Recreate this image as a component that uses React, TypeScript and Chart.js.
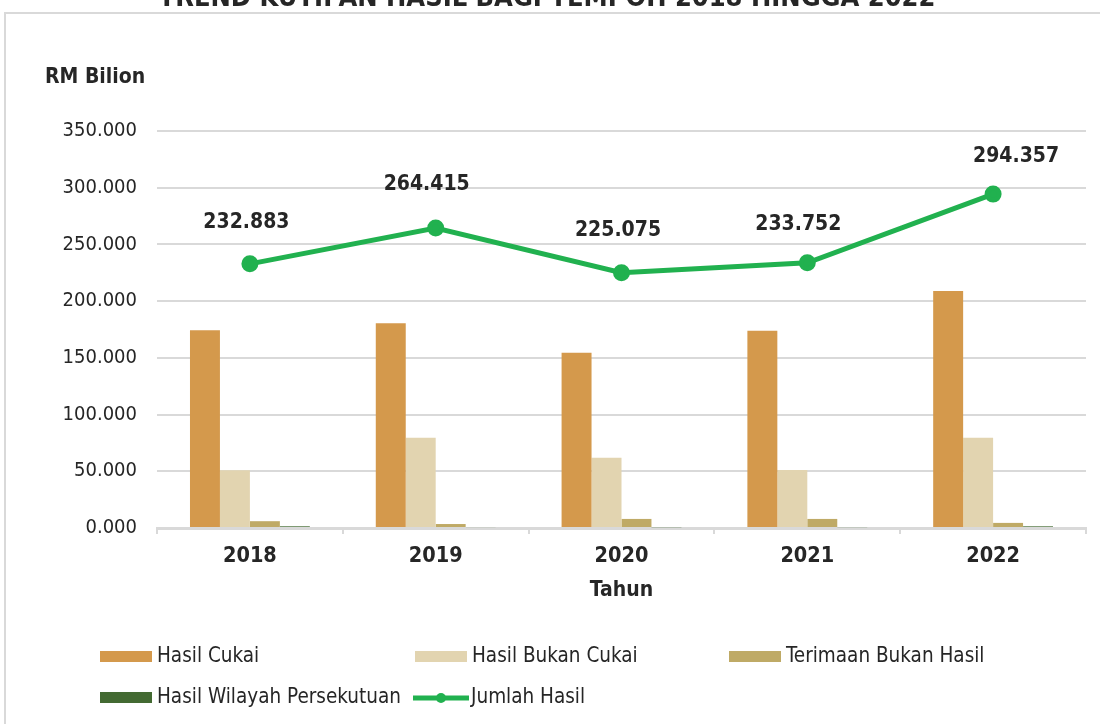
import React, { useEffect, useRef } from "react";
import { Chart, registerables } from "chart.js";
Chart.register(...registerables);

const chartTitle = "TREND KUTIPAN HASIL BAGI TEMPOH 2018 HINGGA 2022";
const yAxisTitle = "RM Bilion";
const xAxisTitle = "Tahun";
const years = ["2018", "2019", "2020", "2021", "2022"];
const hasilCukai = [174.4, 180.6, 154.4, 173.8, 208.9];
const hasilBukanCukai = [51.0, 79.5, 62.0, 51.2, 79.5];
const terimaanBukanHasil = [6.0, 3.5, 8.0, 8.0, 4.5];
const hasilWilayah = [1.483, 0.815, 0.675, 0.752, 1.457];
const jumlahHasil = [232.883, 264.415, 225.075, 233.752, 294.357];
const seriesLabels = [
  "Hasil Cukai",
  "Hasil Bukan Cukai",
  "Terimaan Bukan Hasil",
  "Hasil Wilayah Persekutuan",
  "Jumlah Hasil",
];
const seriesColors = ["#D4994C", "#E2D4B0", "#BFAA66", "#436A32", "#21B14F"];
// placement of the total-value labels relative to each point (dx, dy)
const labelShift = [
  [-3.5, -41],
  [-9, -44],
  [-3.5, -42],
  [-9, -38],
  [23, -38],
];

const FONT = "'DejaVu Sans Condensed', 'Liberation Sans', sans-serif";
const TEXT = "#262626";

const decorPlugin = {
  id: "decor",
  beforeDraw(chart: any) {
    const ctx = chart.ctx;
    ctx.save();
    ctx.fillStyle = "#ffffff";
    ctx.fillRect(0, 0, chart.width, chart.height);
    ctx.strokeStyle = "#d9d9d9";
    ctx.lineWidth = 2;
    ctx.beginPath();
    ctx.moveTo(5, 730);
    ctx.lineTo(5, 13);
    ctx.lineTo(1110, 13);
    ctx.stroke();
    ctx.fillStyle = TEXT;
    ctx.font = "bold 27px " + FONT;
    ctx.textAlign = "center";
    ctx.textBaseline = "alphabetic";
    ctx.fillText(chartTitle, 547, 6);
    ctx.restore();
  },
  afterDraw(chart: any) {
    const ctx = chart.ctx;
    ctx.save();
    ctx.fillStyle = TEXT;
    ctx.textBaseline = "middle";
    ctx.font = "bold 21px " + FONT;
    ctx.textAlign = "left";
    ctx.fillText(yAxisTitle, 45, 78);
    ctx.textAlign = "center";
    const ca = chart.chartArea;
    ctx.fillText(xAxisTitle, (ca.left + ca.right) / 2, 591);
    const meta = chart.getDatasetMeta(4);
    meta.data.forEach((pt: any, i: number) => {
      ctx.fillText(jumlahHasil[i].toFixed(3), pt.x + labelShift[i][0], pt.y + labelShift[i][1]);
    });
    const items = [
      { i: 0, x: 100, y: 657 },
      { i: 1, x: 415, y: 657 },
      { i: 2, x: 729, y: 657 },
      { i: 3, x: 100, y: 698 },
      { i: 4, x: 413, y: 698 },
    ];
    ctx.font = "20.5px " + FONT;
    ctx.textAlign = "left";
    items.forEach((it) => {
      const c = seriesColors[it.i];
      if (it.i === 4) {
        ctx.strokeStyle = c;
        ctx.lineWidth = 5;
        ctx.beginPath();
        ctx.moveTo(it.x, it.y);
        ctx.lineTo(it.x + 56, it.y);
        ctx.stroke();
        ctx.fillStyle = c;
        ctx.beginPath();
        ctx.arc(it.x + 28, it.y, 5, 0, Math.PI * 2);
        ctx.fill();
        ctx.fillStyle = TEXT;
        ctx.fillText(seriesLabels[it.i], it.x + 58, it.y);
      } else {
        ctx.fillStyle = c;
        ctx.fillRect(it.x, it.y - 6, 52, 11);
        ctx.fillStyle = TEXT;
        ctx.fillText(seriesLabels[it.i], it.x + 57, it.y);
      }
    });
    ctx.restore();
  },
};

export default function App() {
  const ref = useRef<HTMLCanvasElement | null>(null);
  useEffect(() => {
    if (!ref.current) return;
    const barDs = (idx: number, data: number[]) => ({
      type: "bar" as const,
      label: seriesLabels[idx],
      data,
      backgroundColor: seriesColors[idx],
      borderWidth: 0,
      categoryPercentage: 0.645,
      barPercentage: 1,
      order: 1,
    });
    const chart = new Chart(ref.current, {
      type: "bar",
      data: {
        labels: years,
        datasets: [
          barDs(0, hasilCukai),
          barDs(1, hasilBukanCukai),
          barDs(2, terimaanBukanHasil),
          barDs(3, hasilWilayah),
          {
            type: "line" as const,
            label: seriesLabels[4],
            data: jumlahHasil,
            borderColor: seriesColors[4],
            backgroundColor: seriesColors[4],
            borderWidth: 5,
            pointRadius: 6,
            pointBackgroundColor: seriesColors[4],
            pointBorderColor: seriesColors[4],
            tension: 0,
            order: 0,
          } as any,
        ],
      },
      options: {
        responsive: false,
        animation: false,
        devicePixelRatio: 1,
        layout: { padding: { left: 0, top: 131, right: 14, bottom: 0 } },
        plugins: {
          legend: { display: false },
          tooltip: { enabled: false },
          title: { display: false },
        },
        scales: {
          x: {
            offset: true,
            grid: {
              display: true,
              drawOnChartArea: false,
              drawTicks: true,
              tickLength: 6,
              color: "#d9d9d9",
              lineWidth: 2,
            },
            border: { display: true, color: "#d9d9d9", width: 3 },
            ticks: {
              color: TEXT,
              font: { family: FONT, size: 21.5, weight: "bold" },
              padding: 10,
            },
            afterFit: (scale: any) => {
              scale.height = 724 - 528;
            },
          },
          y: {
            min: 0,
            max: 350,
            ticks: {
              stepSize: 50,
              color: TEXT,
              font: { family: FONT, size: 20 },
              padding: 20,
              callback: (v: any) => Number(v).toFixed(3),
            },
            grid: { color: "#d9d9d9", lineWidth: 2, drawTicks: false },
            border: { display: false },
            afterFit: (scale: any) => {
              scale.width = 157;
            },
          },
        },
      } as any,
      plugins: [decorPlugin],
    });
    return () => chart.destroy();
  }, []);
  return (
    <div style={{ position: "fixed", left: 0, top: 0, width: 1100, height: 724, background: "#fff" }}>
      <canvas ref={ref} width={1100} height={724} style={{ width: 1100, height: 724, display: "block" }} />
    </div>
  );
}
